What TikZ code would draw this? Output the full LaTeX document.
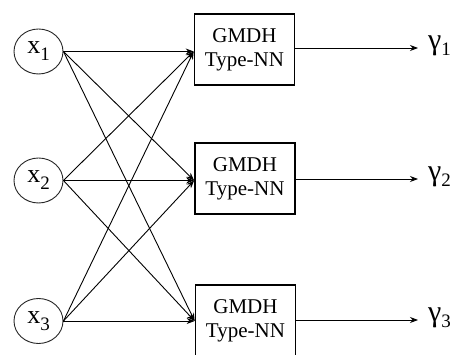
\documentclass[tikz,border=0pt]{standalone}
\usepackage{fontspec}
\setmainfont{Liberation Serif}
\usetikzlibrary{arrows.meta,shapes.geometric}

\tikzset{
  inputnode/.style={draw=black!85, line width=0.9pt, ellipse, inner sep=0pt,
                    minimum width=49pt, minimum height=45pt},
  gmdhbox/.style={draw=black, line width=1.7pt, rectangle, inner sep=0pt,
                  minimum width=100pt, minimum height=71pt, align=center,
                  font=\fontsize{21}{24}\selectfont},
  link/.style={line width=0.9pt, -{Stealth[length=8pt,width=6pt]}},
  outlabel/.style={anchor=west, inner sep=0pt},
}

% input variable x_i with a lowered subscript
\newcommand{\invar}[1]{{\fontsize{26}{26}\selectfont x\raisebox{-7pt}{\fontsize{19}{19}\selectfont #1}}}
% output variable gamma_i
\newcommand{\outvar}[1]{{\fontsize{30}{30}\selectfont γ\raisebox{-6pt}{\fontsize{19}{19}\selectfont #1}}}

\begin{document}
\begin{tikzpicture}[x=1pt,y=-1pt]
  \useasboundingbox (0,0) rectangle (453,355);

  % inputs
  \node[inputnode] (x1) at (38.5,51.5)  {\invar{1}};
  \node[inputnode] (x2) at (38.5,180.5) {\invar{2}};
  \node[inputnode] (x3) at (38.5,321)   {\invar{3}};

  % GMDH networks
  \node[gmdhbox] (b1) at (244.5,49.5)  {GMDH\\Type-NN};
  \node[gmdhbox] (b2) at (245,178.5)   {GMDH\\Type-NN};
  \node[gmdhbox] (b3) at (245.5,320.5) {GMDH\\Type-NN};

  % entry points on the left edges of the boxes
  \coordinate (in1) at (b1.west |- x1.east);
  \coordinate (in2) at (b2.west |- x2.east);
  \coordinate (in3) at (b3.west |- x3.east);

  % every input feeds every network
  \foreach \i in {1,2,3}{
    \foreach \j in {1,2,3}{
      \draw[link] (x\i.east) -- (in\j);
    }
  }

  % outputs
  \coordinate (o1) at (418,48);
  \coordinate (o2) at (418,179);
  \coordinate (o3) at (418,320);
  \draw[link] (b1.east |- o1) -- (o1);
  \draw[link] (b2.east |- o2) -- (o2);
  \draw[link] (b3.east |- o3) -- (o3);

  \node[outlabel] (g1) at ([xshift=10pt,yshift=2pt]o1) {\outvar{1}};
  \node[outlabel] (g2) at ([xshift=10pt,yshift=2pt]o2) {\outvar{2}};
  \node[outlabel] (g3) at ([xshift=10pt,yshift=2pt]o3) {\outvar{3}};
\end{tikzpicture}
\end{document}
